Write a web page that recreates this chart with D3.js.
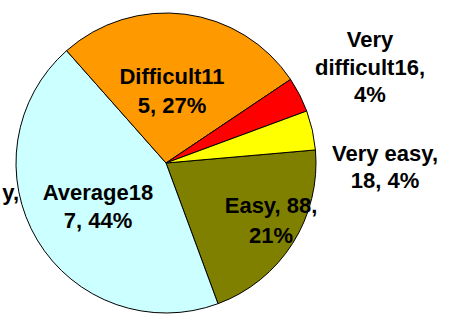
<!DOCTYPE html>
<html>
<head>
<meta charset="utf-8">
<script src="https://cdn.jsdelivr.net/npm/d3@7/dist/d3.min.js"></script>
<style>
  html, body { margin: 0; padding: 0; background: #fff; }
  svg { display: block; }
  text { font-family: "Liberation Sans", Arial, sans-serif; font-weight: bold; fill: #000; }
</style>
</head>
<body>
<svg id="chart" width="451" height="323"></svg>
<script>
// Survey answers: how hard was it?
const categories = ["Easy", "Average", "Difficult", "Very difficult", "Very easy"];
const counts = [88, 187, 115, 16, 18];
const percentLabels = ["21%", "44%", "27%", "4%", "4%"];
const colors = ["#808000", "#CCFFFF", "#FF9900", "#FF0000", "#FFFF00"];

// Data-label text, broken into lines as laid out on the chart
const labelLines = [
  ["Easy, 88,", "21%"],
  ["Average18", "7, 44%"],
  ["Difficult11", "5, 27%"],
  ["Very", "difficult16,", "4%"],
  ["Very easy,", "18, 4%"]
];
// Label placement: centre x, first baseline y (relative to the pie centre) and line gap
const labelPlacement = [
  { dx: 105, dy: 50, gap: 30 },
  { dx: -68, dy: 37, gap: 28 },
  { dx: 6, dy: -79, gap: 29 },
  { dx: 204, dy: -116, gap: 27.5 },
  { dx: 219, dy: -2, gap: 27 }
];

const width = 451, height = 323;
const cx = 166, cy = 163, radius = 150;

const svg = d3.select("#chart");
const g = svg.append("g").attr("transform", `translate(${cx},${cy})`);

const startAngle = 85 * Math.PI / 180;
const pie = d3.pie()
  .value(d => d.value)
  .sort(null)
  .startAngle(startAngle)
  .endAngle(startAngle + 2 * Math.PI);

const data = categories.map((c, i) => ({ name: c, value: counts[i], color: colors[i], i }));
const arcs = pie(data);
const arc = d3.arc().innerRadius(0).outerRadius(radius);

g.selectAll("path.slice")
  .data(arcs)
  .join("path")
  .attr("class", "slice")
  .attr("d", arc)
  .attr("fill", d => d.data.color)
  .attr("stroke", "#000")
  .attr("stroke-width", 1)
  .attr("stroke-linejoin", "round");

// Data labels
const labels = g.selectAll("text.label")
  .data(arcs)
  .join("text")
  .attr("class", "label")
  .attr("text-anchor", "middle")
  .attr("font-size", 22);

labels.each(function(d) {
  const p = labelPlacement[d.data.i];
  d3.select(this).selectAll("tspan")
    .data(labelLines[d.data.i])
    .join("tspan")
    .attr("x", p.dx)
    .attr("y", (t, k) => p.dy + k * p.gap)
    .text(t => t);
});

// Partly hidden label at the left border
svg.append("text")
  .attr("x", 19)
  .attr("y", 200)
  .attr("text-anchor", "end")
  .attr("font-size", 22)
  .text("y,");
</script>
</body>
</html>
